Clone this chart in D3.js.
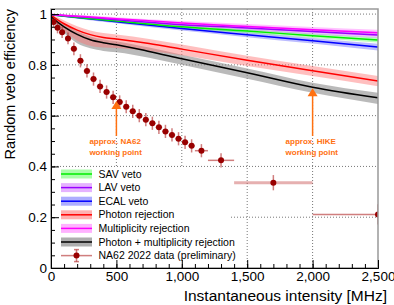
<!DOCTYPE html>
<html>
<head>
<meta charset="utf-8">
<script src="https://cdn.jsdelivr.net/npm/d3@7"></script>
<style>
  body { margin: 0; background: #fff; }
  svg text { font-family: "Liberation Sans", Arial, sans-serif; }
</style>
</head>
<body>
<div id="chart"></div>
<script>
// chart size
var svgWidth = 394;
var svgHeight = 305;
var margin = { top: 9, right: 16, bottom: 37, left: 51 };
var width = svgWidth - margin.left - margin.right;
var height = svgHeight - margin.top - margin.bottom;

// simulated curves, sampled at these intensities (MHz)
var xVeto = [0, 250, 500, 1000, 1500, 2000, 2500];
var savEff = [0.997, 0.985, 0.973, 0.950, 0.933, 0.915, 0.898];
var savErr = [0.002, 0.004, 0.005, 0.007, 0.008, 0.009, 0.010];
var lavEff = [0.998, 0.988, 0.978, 0.958, 0.945, 0.931, 0.918];
var lavErr = [0.003, 0.005, 0.006, 0.008, 0.010, 0.011, 0.012];
var ecalEff = [0.997, 0.984, 0.970, 0.943, 0.919, 0.895, 0.870];
var ecalErr = [0.003, 0.005, 0.006, 0.008, 0.010, 0.011, 0.013];
var multEff = [0.998, 0.990, 0.982, 0.965, 0.951, 0.938, 0.926];
var multErr = [0.003, 0.005, 0.006, 0.008, 0.010, 0.011, 0.012];

var xRej = [0, 50, 100, 200, 300, 400, 500, 750, 1000, 1500, 2000, 2500];
var photonEff = [0.995, 0.978, 0.962, 0.937, 0.919, 0.908, 0.902, 0.884, 0.862, 0.818, 0.777, 0.736];
var photonLo = [0.990, 0.960, 0.935, 0.895, 0.875, 0.868, 0.866, 0.855, 0.838, 0.796, 0.756, 0.716];
var photonHi = [0.998, 0.988, 0.975, 0.952, 0.935, 0.925, 0.920, 0.902, 0.880, 0.836, 0.796, 0.756];
var comboEff = [0.990, 0.968, 0.950, 0.920, 0.899, 0.887, 0.879, 0.853, 0.824, 0.769, 0.712, 0.670];
var comboLo = [0.985, 0.950, 0.925, 0.885, 0.865, 0.855, 0.850, 0.828, 0.800, 0.745, 0.690, 0.646];
var comboHi = [0.995, 0.978, 0.962, 0.932, 0.912, 0.900, 0.893, 0.868, 0.840, 0.786, 0.730, 0.690];

// NA62 2022 data
var dataX = [20, 50, 85, 130, 175, 225, 275, 325, 375, 425, 475, 525, 575, 625, 675, 725, 775, 825, 875, 925, 975, 1025, 1075, 1150, 1300, 1700, 2500];
var dataXErr = [12.5, 15, 17.5, 22.5, 25, 25, 25, 25, 25, 25, 25, 25, 25, 25, 25, 25, 25, 25, 25, 25, 25, 25, 25, 50, 100, 300, 500];
var dataY = [0.969, 0.946, 0.928, 0.904, 0.863, 0.816, 0.776, 0.744, 0.715, 0.693, 0.672, 0.654, 0.635, 0.617, 0.600, 0.584, 0.570, 0.554, 0.538, 0.524, 0.509, 0.495, 0.481, 0.462, 0.424, 0.336, 0.211];
var dataYErr = [0.02, 0.022, 0.022, 0.023, 0.025, 0.026, 0.026, 0.026, 0.026, 0.026, 0.026, 0.026, 0.026, 0.026, 0.026, 0.026, 0.026, 0.026, 0.026, 0.026, 0.026, 0.026, 0.026, 0.026, 0.028, 0.03, 0.04];

var legendLabels = ["SAV veto", "LAV veto", "ECAL veto", "Photon rejection", "Multiplicity rejection", "Photon + multiplicity rejection", "NA62 2022 data (preliminary)"];
var xTicks = [0, 500, 1000, 1500, 2000, 2500];
var yTicks = [0, 0.2, 0.4, 0.6, 0.8, 1];

var svg = d3.select("#chart")
  .append("svg")
  .attr("width", svgWidth)
  .attr("height", svgHeight);

var chartGroup = svg.append("g")
  .attr("transform", `translate(${margin.left}, ${margin.top})`);

var xScale = d3.scaleLinear().domain([0, 2500]).range([0, width]);
var yScale = d3.scaleLinear().domain([0, 1.02]).range([height, 0]);

svg.append("defs").append("clipPath").attr("id", "clip")
  .append("rect").attr("width", width).attr("height", height);

// grid
chartGroup.append("g").selectAll("line")
  .data(xTicks.slice(1, -1))
  .enter().append("line")
  .attr("x1", d => xScale(d)).attr("x2", d => xScale(d))
  .attr("y1", 0).attr("y2", height)
  .attr("stroke", "#777").attr("stroke-dasharray", "1,2");
chartGroup.append("g").selectAll("line")
  .data(yTicks.slice(1))
  .enter().append("line")
  .attr("x1", 0).attr("x2", width)
  .attr("y1", d => yScale(d)).attr("y2", d => yScale(d))
  .attr("stroke", "#777").attr("stroke-dasharray", "1,2");

var plot = chartGroup.append("g").attr("clip-path", "url(#clip)");

var curves = [
  { xs: xRej, mid: comboEff, lo: comboLo, hi: comboHi, line: "#000000", band: "#8c8c8c", op: 0.6 },
  { xs: xRej, mid: photonEff, lo: photonLo, hi: photonHi, line: "#ff0000", band: "#ff7070", op: 0.45 },
  { xs: xVeto, mid: ecalEff, lo: ecalEff.map((v, i) => v - ecalErr[i]), hi: ecalEff.map((v, i) => v + ecalErr[i]), line: "#0000ff", band: "#6a6aff", op: 0.45 },
  { xs: xVeto, mid: savEff, lo: savEff.map((v, i) => v - savErr[i]), hi: savEff.map((v, i) => v + savErr[i]), line: "#00ee00", band: "#66ff66", op: 0.45 },
  { xs: xVeto, mid: lavEff, lo: lavEff.map((v, i) => v - lavErr[i]), hi: lavEff.map((v, i) => v + lavErr[i]), line: "#9900ff", band: "#cc66ff", op: 0.4 },
  { xs: xVeto, mid: multEff, lo: multEff.map((v, i) => v - multErr[i]), hi: multEff.map((v, i) => v + multErr[i]), line: "#ff00ff", band: "#ff66ff", op: 0.4 }
];

var area = d3.area().curve(d3.curveMonotoneX)
  .x(d => xScale(d.x)).y0(d => yScale(d.lo)).y1(d => yScale(d.hi));
var line = d3.line().curve(d3.curveMonotoneX)
  .x(d => xScale(d.x)).y(d => yScale(d.y));

curves.forEach(function(c) {
  var pts = c.xs.map((x, i) => ({ x: x, y: c.mid[i], lo: c.lo[i], hi: c.hi[i] }));
  plot.append("path").attr("d", area(pts))
    .attr("fill", c.band).attr("opacity", c.op);
});
curves.forEach(function(c) {
  var pts = c.xs.map((x, i) => ({ x: x, y: c.mid[i] }));
  plot.append("path").attr("d", line(pts))
    .attr("fill", "none").attr("stroke", c.line).attr("stroke-width", 1.5);
});

// data points
var points = dataX.map((x, i) => ({ x: x, xe: dataXErr[i], y: dataY[i], ye: dataYErr[i] }));
var errColor = "rgba(170,20,20,0.55)";
plot.append("g").selectAll("line")
  .data(points).enter().append("line")
  .attr("x1", d => xScale(d.x - d.xe)).attr("x2", d => xScale(d.x + d.xe))
  .attr("y1", d => yScale(d.y)).attr("y2", d => yScale(d.y))
  .attr("stroke", d => d.x == 1700 ? "rgba(200,80,80,0.45)" : errColor)
  .attr("stroke-width", d => d.x == 1700 ? 3 : 1.5);
plot.append("g").selectAll("line")
  .data(points).enter().append("line")
  .attr("x1", d => xScale(d.x)).attr("x2", d => xScale(d.x))
  .attr("y1", d => yScale(d.y - d.ye)).attr("y2", d => yScale(d.y + d.ye))
  .attr("stroke", errColor).attr("stroke-width", 1.5);
plot.append("g").selectAll("circle")
  .data(points).enter().append("circle")
  .attr("cx", d => xScale(d.x)).attr("cy", d => yScale(d.y))
  .attr("r", 3).attr("fill", "#990000");

// working point arrows
var orange = "#ff7010";
var arrows = [
  { x: 500, tip: 0.658, end: 0.52, t1: "approx. NA62", t2: "working point" },
  { x: 2000, tip: 0.708, end: 0.52, t1: "approx. HIKE", t2: "working point" }
];
arrows.forEach(function(a) {
  var ax = xScale(a.x), ty = yScale(a.tip);
  chartGroup.append("line")
    .attr("x1", ax).attr("x2", ax).attr("y1", ty + 6).attr("y2", yScale(a.end))
    .attr("stroke", orange).attr("stroke-width", 1.5);
  chartGroup.append("path")
    .attr("d", `M${ax},${ty} L${ax - 5},${ty + 8} L${ax + 5},${ty + 8} Z`)
    .attr("fill", orange);
  chartGroup.append("text").attr("x", ax - 27).attr("y", yScale(a.end) + 8)
    .attr("font-size", 8).attr("font-weight", "bold").attr("fill", orange).text(a.t1);
  chartGroup.append("text").attr("x", ax - 27).attr("y", yScale(a.end) + 19.5)
    .attr("font-size", 8).attr("font-weight", "bold").attr("fill", orange).text(a.t2);
});

// legend
var legend = chartGroup.append("g");
legend.append("rect").attr("x", 0.5).attr("y", 159).attr("width", 178).attr("height", height - 159.5)
  .attr("fill", "#fff");
var legendItems = [curves[3], curves[4], curves[2], curves[1], curves[5], curves[0]];
legendLabels.forEach(function(lbl, i) {
  var ly = 165 + 13.6 * i;
  if (i < 6) {
    var c = legendItems[i];
    legend.append("rect").attr("x", 10).attr("y", ly - 4.5).attr("width", 31).attr("height", 9)
      .attr("fill", c.band).attr("opacity", c.op + 0.1);
    legend.append("line").attr("x1", 10).attr("x2", 41).attr("y1", ly).attr("y2", ly)
      .attr("stroke", c.line).attr("stroke-width", 1.5);
  } else {
    legend.append("line").attr("x1", 10).attr("x2", 41).attr("y1", ly).attr("y2", ly)
      .attr("stroke", errColor).attr("stroke-width", 1.5);
    legend.append("line").attr("x1", 25.5).attr("x2", 25.5).attr("y1", ly - 6).attr("y2", ly + 6)
      .attr("stroke", errColor).attr("stroke-width", 1.5);
    legend.append("line").attr("x1", 23).attr("x2", 28).attr("y1", ly - 6).attr("y2", ly - 6)
      .attr("stroke", errColor).attr("stroke-width", 1.5);
    legend.append("line").attr("x1", 23).attr("x2", 28).attr("y1", ly + 6).attr("y2", ly + 6)
      .attr("stroke", errColor).attr("stroke-width", 1.5);
    legend.append("circle").attr("cx", 25.5).attr("cy", ly).attr("r", 3).attr("fill", "#990000");
  }
  legend.append("text").attr("x", 47.5).attr("y", ly).attr("dy", "0.35em")
    .attr("font-size", 10.5).attr("fill", "#000").text(lbl);
});

// frame
chartGroup.append("rect").attr("x", 0).attr("y", 0).attr("width", width).attr("height", height)
  .attr("fill", "none").attr("stroke", "#999").attr("stroke-width", 1.5);

// axes
var bottomAxis = d3.axisBottom(xScale).tickValues(xTicks).tickSizeInner(-8).tickSizeOuter(0).tickPadding(3);
var bottomMinor = d3.axisBottom(xScale).tickValues(d3.range(0, 2501, 100)).tickSize(-4).tickFormat("");
var leftAxis = d3.axisLeft(yScale).tickValues(yTicks).tickSizeInner(-8).tickSizeOuter(0).tickPadding(4)
  .tickFormat(d => d == 0 ? "0" : d == 1 ? "1" : d.toFixed(1));
var leftMinor = d3.axisLeft(yScale).tickValues(d3.range(0, 21).map(i => i * 0.05)).tickSize(-4).tickFormat("");

[bottomMinor, bottomAxis].forEach(function(ax) {
  chartGroup.append("g").attr("transform", `translate(0, ${height})`).call(ax)
    .call(g => g.selectAll("text").attr("font-size", 13.5).attr("font-family", "Liberation Sans"));
});
[leftMinor, leftAxis].forEach(function(ax) {
  chartGroup.append("g").call(ax)
    .call(g => g.selectAll("text").attr("font-size", 13.5).attr("font-family", "Liberation Sans"));
});
chartGroup.selectAll(".domain").attr("stroke", "#000");

// axis titles
svg.append("text")
  .attr("x", 387).attr("y", 301)
  .attr("text-anchor", "end").attr("font-size", 15.5)
  .text("Instantaneous intensity [MHz]");
svg.append("text")
  .attr("transform", "translate(15, 9) rotate(-90)")
  .attr("text-anchor", "end").attr("font-size", 14.5)
  .text("Random veto efficiency");
</script>
</body>
</html>
